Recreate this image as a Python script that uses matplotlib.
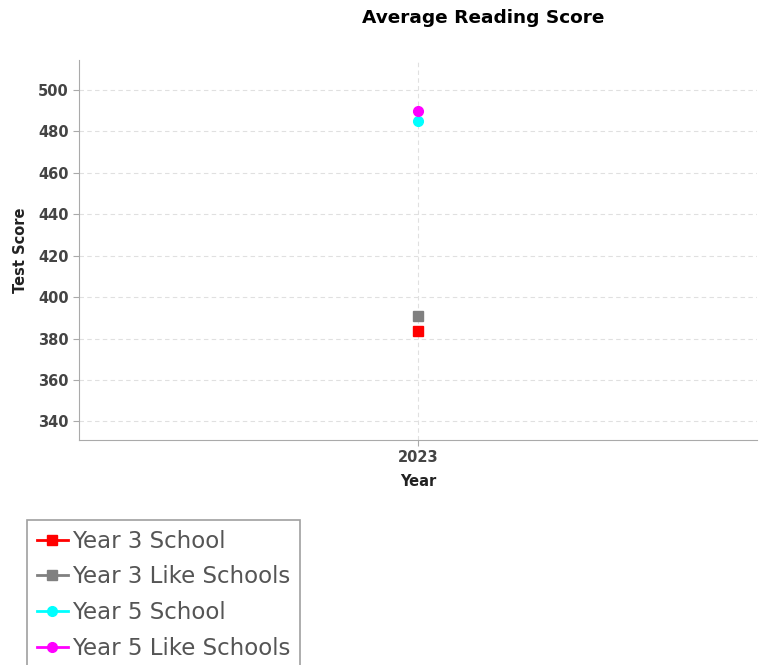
import matplotlib
matplotlib.use("Agg")
import matplotlib.pyplot as plt

# data
years = ["2023"]
series_names = ["Year 3 School", "Year 3 Like Schools", "Year 5 School", "Year 5 Like Schools"]
year3_school = [383.5]
year3_like = [391]
year5_school = [485]
year5_like = [490]

colors = ["#ff0000", "#808080", "#00ffff", "#ff00ff"]
markers = ["s", "s", "o", "o"]
values = [year3_school, year3_like, year5_school, year5_like]

plt.rcParams["font.family"] = ["DejaVu Sans"]

fig = plt.figure(figsize=(7.65, 6.65), dpi=100)
ax = fig.add_axes([0.1033, 0.3383, 0.8862, 0.5715])

x = list(range(len(years)))
handles = []
for name, vals, c, m in zip(series_names, values, colors, markers):
    h, = ax.plot(x, vals, color=c, marker=m, markersize=7, linewidth=2,
                 linestyle="-", label=name, zorder=3)
    handles.append(h)

ax.set_xlim(-0.5, 0.5)
ax.set_ylim(331, 514.5)
ax.set_yticks(range(340, 501, 20))
ax.set_xticks(x)
ax.set_xticklabels(years)

for lbl in ax.get_yticklabels() + ax.get_xticklabels():
    lbl.set_fontweight("bold")
    lbl.set_color("#444444")
    lbl.set_fontsize(10.5)

ax.set_xlabel("Year", fontsize=10.5, fontweight="bold", color="#222222", labelpad=6)
ax.set_ylabel("Test Score", fontsize=10.5, fontweight="bold", color="#222222", labelpad=7)
fig.text(483 / 765, 1 - 18 / 665, "Average Reading Score", ha="center", va="center",
         fontsize=13.3, fontweight="bold")

ax.grid(True, color="#e0e0e0", linestyle=(0, (4, 3)), linewidth=0.8)
ax.set_axisbelow(True)
for side in ["top", "right"]:
    ax.spines[side].set_visible(False)
for side in ["left", "bottom"]:
    ax.spines[side].set_color("#aaaaaa")
ax.tick_params(axis="both", color="#aaaaaa", length=4)

leg = fig.legend(handles=handles, loc="upper left", bbox_to_anchor=(27 / 765, 1 - 520 / 665),
                 frameon=True, fancybox=False, handlelength=1.35,
                 handletextpad=0.2, labelspacing=0.56, borderpad=0.42, borderaxespad=0,
                 prop={"family": ["DejaVu Sans"], "size": 16.5})
leg.get_frame().set_edgecolor("#888888")
leg.get_frame().set_linewidth(1.2)
for t in leg.get_texts():
    t.set_color("#555555")

fig.savefig("out.png", dpi=100)
